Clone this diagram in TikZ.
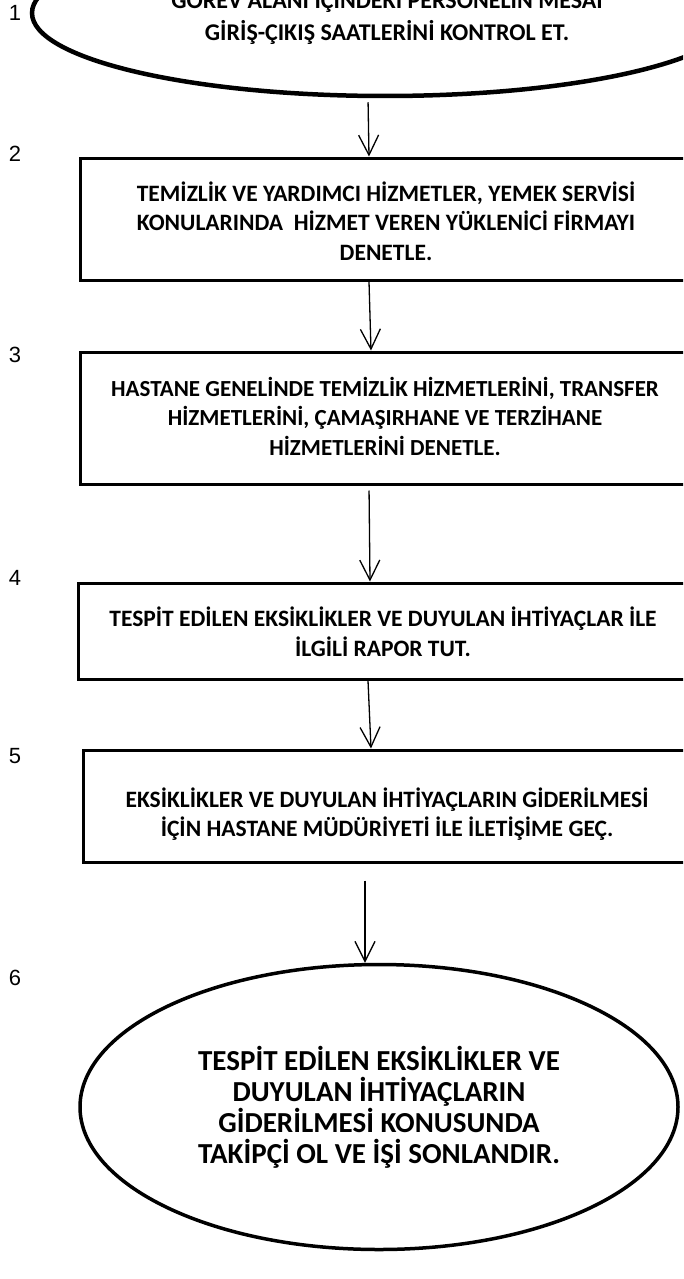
\documentclass[tikz,border=0pt]{standalone}
\usepackage{fontspec}
\setmainfont{Carlito}
\newfontfamily\numfont{Liberation Sans}
\usetikzlibrary{shapes.geometric,arrows.meta}
\tikzset{
  boxfont/.style={font=\bfseries\fontsize{23.5}{29.5}\selectfont},
  stepbox/.style={draw, line width=3pt, rectangle, align=center, boxfont, inner sep=0pt},
  boxtext/.style={align=center, boxfont, inner sep=0pt},
  termell/.style={draw, line width=4pt, ellipse, align=center, inner sep=0pt},
  arr/.style={-{Straight Barb[length=20pt,width=20pt]}, line width=1.3pt},
  num/.style={font=\numfont\fontsize{22}{22}\selectfont, inner sep=0pt}
}
\begin{document}
\begin{tikzpicture}[x=1pt,y=-1pt]
\useasboundingbox (0,0) rectangle (683,1279);
\clip (0,0) rectangle (683,1279);
\fill[white] (0,0) rectangle (683,1279);
% numbers
\node[num] (n1) at (15,13) {1};
\node[num] (n2) at (15,154) {2};
\node[num] (n3) at (15,355) {3};
\node[num] (n4) at (15,578) {4};
\node[num] (n5) at (15,756) {5};
\node[num] (n6) at (15,978) {6};
% shapes
\node[termell, line width=4.5pt, minimum width=706pt, minimum height=166pt] (e1) at (385,13) {};
\node[boxtext, font=\bfseries\fontsize{24}{32}\selectfont] (t1) at (387,16) {GÖREV ALANI İÇİNDEKİ PERSONELİN MESAİ\\GİRİŞ-ÇIKIŞ SAATLERİNİ KONTROL ET.};
\node[stepbox, minimum width=612pt, minimum height=122pt] (b2) at (386,219) {};
\node[boxtext] (t2) at (386,221) {TEMİZLİK VE YARDIMCI HİZMETLER, YEMEK SERVİSİ\\KONULARINDA \ HİZMET VEREN YÜKLENİCİ FİRMAYI\\DENETLE.};
\node[stepbox, minimum width=612pt, minimum height=132pt] (b3) at (386,418) {};
\node[boxtext, font=\bfseries\fontsize{23}{29.5}\selectfont] (t3) at (385,416) {HASTANE GENELİNDE TEMİZLİK HİZMETLERİNİ, TRANSFER\\HİZMETLERİNİ, ÇAMAŞIRHANE VE TERZİHANE\\HİZMETLERİNİ DENETLE.};
\node[stepbox, minimum width=614pt, minimum height=96pt] (b4) at (385,631) {};
\node[boxtext] (t4) at (383,632) {TESPİT EDİLEN EKSİKLİKLER VE DUYULAN İHTİYAÇLAR İLE\\İLGİLİ RAPOR TUT.};
\node[stepbox, minimum width=610pt, minimum height=112pt] (b5) at (388,806) {};
\node[boxtext] (t5) at (387,814) {EKSİKLİKLER VE DUYULAN İHTİYAÇLARIN GİDERİLMESİ\\İÇİN HASTANE MÜDÜRİYETİ İLE İLETİŞİME GEÇ.};
\node[termell, line width=3.5pt, minimum width=598pt, minimum height=285pt, font=\bfseries\fontsize{29}{31}\selectfont] (e6) at (379,1107) {TESPİT EDİLEN EKSİKLİKLER VE\\DUYULAN İHTİYAÇLARIN\\GİDERİLMESİ KONUSUNDA\\TAKİPÇİ OL VE İŞİ SONLANDIR.};
% connectors
\draw[arr, shorten <=4pt] ([xshift=-17pt]e1.south) -- ([xshift=-17pt]b2.north);
\draw[arr] ([xshift=-17pt]b2.south) -- ([xshift=-15pt]b3.north);
\draw[arr, shorten <=5pt] ([xshift=-17pt]b3.south) -- ([xshift=-15pt]b4.north);
\draw[arr] ([xshift=-17pt]b4.south) -- ([xshift=-17pt]b5.north);
\draw[arr, shorten <=17pt] ([xshift=-23pt]b5.south) -- ([xshift=-14pt]e6.north);
\end{tikzpicture}
\end{document}
